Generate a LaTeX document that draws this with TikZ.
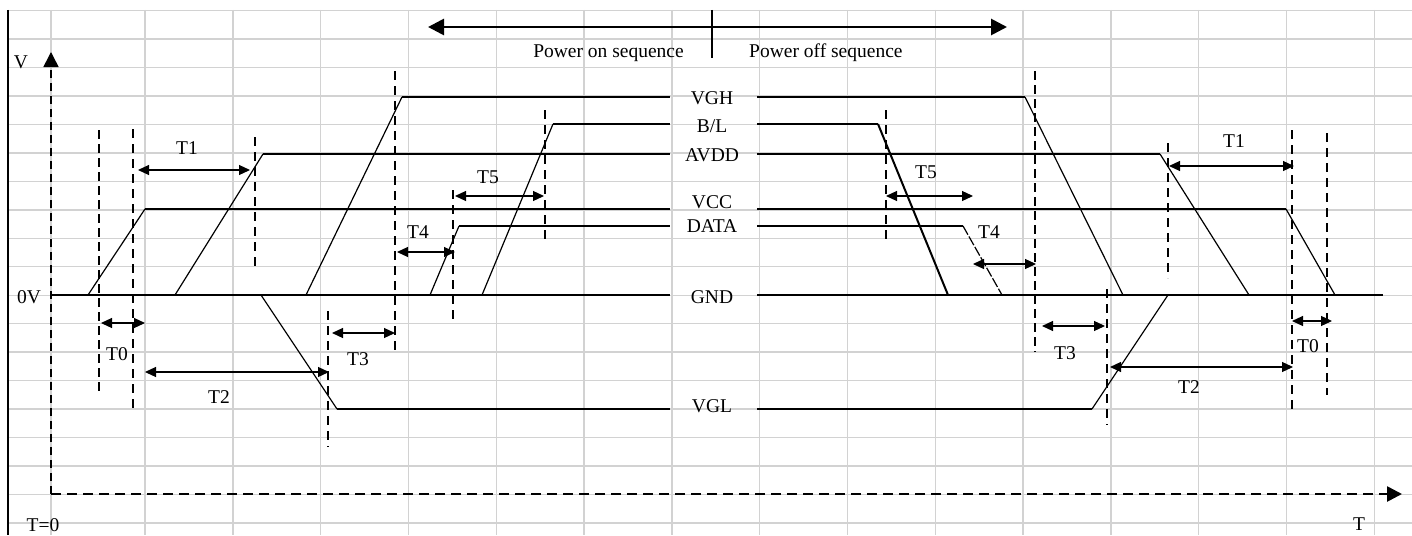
\documentclass[tikz,border=0pt]{standalone}
\usepackage{fontspec}
\setmainfont{Liberation Serif}
\usepackage{tikz}
\usetikzlibrary{arrows.meta}
\definecolor{cellgray}{RGB}{210,210,210}

\begin{document}
\begin{tikzpicture}[x=1pt, y=-1pt, >={Triangle[length=11pt,width=10pt]},
  cell/.style={cellgray, line width=1.4pt},
  sig/.style={line width=2.4pt},
  ramp/.style={line width=1.2pt},
  guide/.style={line width=2.2pt, dash pattern=on 9pt off 6pt},
  thinguide/.style={line width=1.3pt, dash pattern=on 9pt off 5pt},
  dim/.style={<->, line width=1.2pt},
  lbl/.style={font=\fontsize{19.5}{22}\selectfont, inner sep=0pt, anchor=base}]
  \useasboundingbox (0,0) rectangle (1412,535);
  \foreach \k in {0,...,18}
    \draw[cell] (8,{10.7+28.45*\k}) -- (1412,{10.7+28.45*\k});
  \draw[cell] (51,10) -- (51,535);
  \foreach \k in {0,...,14}
    \draw[cell] ({145+87.8*\k},10) -- ({145+87.8*\k},535);
  \draw[line width=1.5pt] (8,10) -- (8,535);
  % axes
  \coordinate (o) at (51,494);
  \coordinate (vtip) at (51,52);
  \coordinate (ttip) at (1402,494);
  \draw[line width=1.6pt, dash pattern=on 8pt off 5pt, -{Triangle[length=15pt,width=15pt]}] (o) -- (vtip);
  \draw[line width=2.6pt, dash pattern=on 10pt off 6pt, -{Triangle[length=15pt,width=15pt]}] (o) -- (ttip);
  \node[lbl] (vlab) at (21,68) {V};
  \node[lbl] (zero) at (29,303) {0V};
  \node[lbl] (tzero) at (43,531) {T=0};
  \node[lbl] (tlab) at (1359,530) {T};
  % sequence arrow
  \coordinate (seqL) at (428,27);
  \coordinate (seqR) at (1007,27);
  \draw[line width=2.8pt, {Triangle[length=16pt,width=16pt]}-{Triangle[length=16pt,width=16pt]}] (seqL) -- (seqR);
  \draw[line width=1.2pt] (712,10) -- (712,58);
  \node[lbl, anchor=base east] (pon) at (684,57) {Power on sequence};
  \node[lbl, anchor=base west] (poff) at (749,57) {Power off sequence};
  % signals
  \draw[sig] (51,295) -- (670,295) (757,295) -- (1383,295);
  \draw[ramp] (88,295) -- (145,209) (1286,209) -- (1335,295);
  \draw[sig] (145,209) -- (670,209) (757,209) -- (1286,209);
  \draw[ramp] (175,295) -- (263,154) (1160,154) -- (1249,295);
  \draw[sig] (263,154) -- (670,154) (757,154) -- (1160,154);
  \draw[ramp] (306,295) -- (402,97) (1025,97) -- (1123,295);
  \draw[sig] (402,97) -- (670,97) (757,97) -- (1025,97);
  \draw[ramp] (430,295) -- (459,226);
  \draw[ramp, dash pattern=on 10pt off 2pt] (963,226) -- (1002,295);
  \draw[sig] (459,226) -- (670,226) (757,226) -- (963,226);
  \draw[ramp] (482,295) -- (553,124);
  \draw[line width=2pt] (878,124) -- (948,295);
  \draw[sig] (553,124) -- (670,124) (757,124) -- (878,124);
  \draw[ramp] (261,295) -- (337,409) (1092,409) -- (1168,295);
  \draw[sig] (337,409) -- (670,409) (757,409) -- (1092,409);
  \node[lbl] (vgh) at (712,104) {VGH};
  \node[lbl] (bl) at (712,132) {B/L};
  \node[lbl] (avdd) at (712,161) {AVDD};
  \node[lbl] (vcc) at (712,208) {VCC};
  \node[lbl] (data) at (712,232) {DATA};
  \node[lbl] (gnd) at (712,303) {GND};
  \node[lbl] (vgl) at (712,412) {VGL};
  % guides
  \draw[thinguide] (99,130) -- (99,392);
  \draw[guide] (133,129) -- (133,411);
  \draw[guide] (255,137) -- (255,270);
  \draw[guide] (395,71) -- (395,352);
  \draw[guide] (453,190) -- (453,322);
  \draw[guide] (545,110) -- (545,244);
  \draw[guide] (328,311) -- (328,447);
  \draw[guide] (886,110) -- (886,244);
  \draw[thinguide] (1035,71) -- (1035,352);
  \draw[guide] (1107,289) -- (1107,425);
  \draw[guide] (1168,143) -- (1168,278);
  \draw[guide] (1292,130) -- (1292,411);
  \draw[guide] (1327,133) -- (1327,395);
  % timing marks
  \draw[dim] (101,323) -- (145,323);
  \draw[dim] (138,170) -- (250,170);
  \draw[dim] (145,372) -- (329,372);
  \draw[dim] (332,333) -- (395,333);
  \draw[dim] (397,252) -- (455,252);
  \draw[dim] (455,196) -- (544,196);
  \draw[dim] (886,196) -- (973,196);
  \draw[dim] (973,264) -- (1036,264);
  \draw[dim] (1042,326) -- (1105,326);
  \draw[dim] (1110,367) -- (1293,367);
  \draw[dim] (1169,166) -- (1294,166);
  \draw[dim] (1292,321) -- (1332,321);
  \node[lbl] (t0a) at (117,360) {T0};
  \node[lbl] (t1a) at (187,154) {T1};
  \node[lbl] (t2a) at (219,403) {T2};
  \node[lbl] (t3a) at (358,365) {T3};
  \node[lbl] (t4a) at (418,238) {T4};
  \node[lbl] (t5a) at (488,183) {T5};
  \node[lbl] (t5b) at (926,178) {T5};
  \node[lbl] (t4b) at (989,238) {T4};
  \node[lbl] (t3b) at (1065,359) {T3};
  \node[lbl] (t2b) at (1189,393) {T2};
  \node[lbl] (t1b) at (1234,147) {T1};
  \node[lbl] (t0b) at (1308,352) {T0};
\end{tikzpicture}
\end{document}
